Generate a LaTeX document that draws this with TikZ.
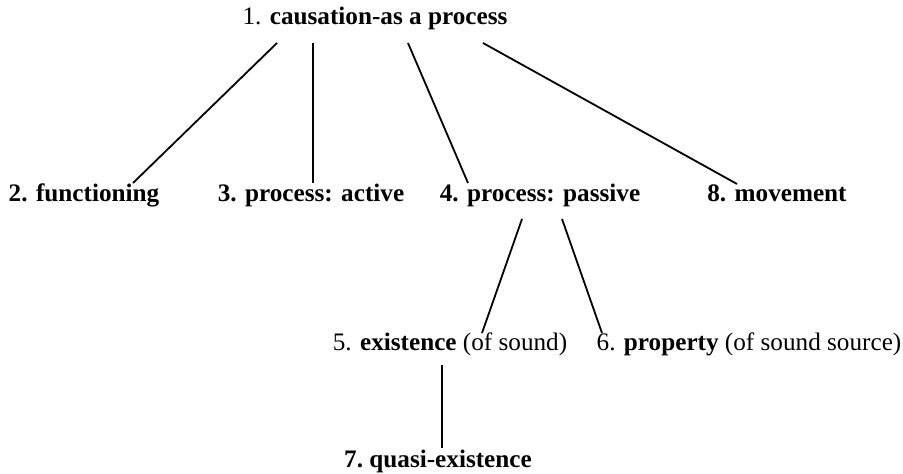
\documentclass[tikz,border=0pt]{standalone}
\usepackage{fontspec}
\setmainfont{Liberation Serif}
\usepackage{tikz}
\usetikzlibrary{calc}
\pgfkeys{tikz/mylabel/.style={anchor=base,inner sep=0pt,font=\fontsize{12.6}{15}\selectfont}}
\pgfkeys{tikz/mylink/.style={line width=0.9pt}}

\begin{document}
\begin{tikzpicture}[x=0.5pt,y=-0.5pt]
    \useasboundingbox (0,0) rectangle (903,474);
    \node[mylabel] (cause) at (375,25) {1. \textbf{causation-as a process}};
    \node[mylabel] (func) at (84,202) {\textbf{2. functioning}};
    \node[mylabel] (active) at (311,202) {\textbf{3. process: active}};
    \node[mylabel] (passive) at (540,202) {\textbf{4. process: passive}};
    \node[mylabel] (move) at (777,202) {\textbf{8. movement}};
    \node[mylabel] (exist) at (450,351) {5. \textbf{existence} (of sound)};
    \node[mylabel] (prop) at (749,351) {6. \textbf{property} (of sound source)};
    \node[mylabel] (quasi) at (438,467) {\textbf{7.\ quasi-existence}};
    % top level
    \draw[mylink] ([xshift=-49pt,yshift=-9pt]cause.base) -- ([xshift=24.5pt,yshift=9.5pt]func.base);
    \draw[mylink] ([xshift=-31pt,yshift=-9pt]cause.base) -- ([xshift=1pt,yshift=9.5pt]active.base);
    \draw[mylink] ([xshift=16.5pt,yshift=-9pt]cause.base) -- ([xshift=-36pt,yshift=9.5pt]passive.base);
    \draw[mylink] ([xshift=54pt,yshift=-9pt]cause.base) -- ([xshift=-20pt,yshift=9pt]move.base);
    % passive
    \draw[mylink] ([xshift=-9pt,yshift=-8.5pt]passive.base) -- ([xshift=16pt,yshift=9pt]exist.base);
    \draw[mylink] ([xshift=11pt,yshift=-8.5pt]passive.base) -- ([xshift=-73.5pt,yshift=9pt]prop.base);
    \draw[mylink] ([xshift=-4pt,yshift=-7pt]exist.base) -- ([xshift=2pt,yshift=9.5pt]quasi.base);
\end{tikzpicture}
\end{document}
